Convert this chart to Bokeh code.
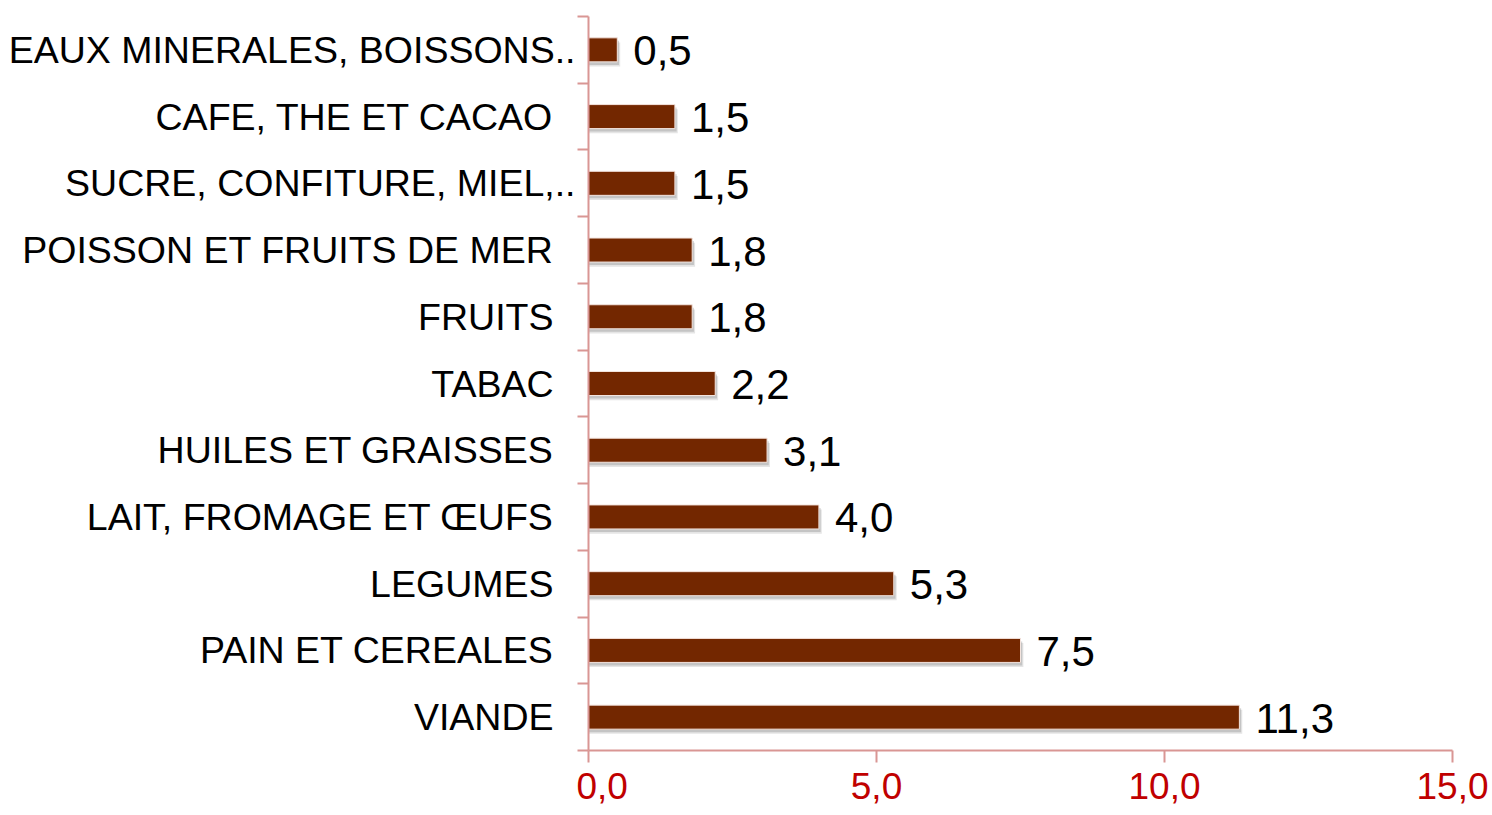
from bokeh.plotting import figure
from bokeh.layouts import row
from bokeh.models import FixedTicker, ColumnDataSource, Range1d
from bokeh.transform import dodge
from bokeh.core.properties import value
from bokeh.embed import file_html
from bokeh.resources import INLINE

# data (top to bottom as in the chart)
categories = ["EAUX MINERALES, BOISSONS..", "CAFE, THE ET CACAO", "SUCRE, CONFITURE, MIEL,..",
              "POISSON ET FRUITS DE MER", "FRUITS", "TABAC", "HUILES ET GRAISSES",
              "LAIT, FROMAGE ET \u0152UFS", "LEGUMES", "PAIN ET CEREALES", "VIANDE"]
values = [0.5, 1.5, 1.5, 1.8, 1.8, 2.2, 3.1, 4.0, 5.3, 7.5, 11.3]
value_labels = ["0,5", "1,5", "1,5", "1,8", "1,8", "2,2", "3,1", "4,0", "5,3", "7,5", "11,3"]
x_ticks = [0, 5, 10, 15]
x_tick_labels = ["0,0", "5,0", "10,0", "15,0"]

FONT = "Liberation Sans"
BAR = "#732700"
AXIS = "#D99694"

H = 815
TOP = 16
BOTTOM = 65
LEFTW = 576

n = len(categories)
ypos = [n - 1 - i for i in range(n)]
xoff = [-1 if c.endswith("..") else -23 for c in categories]

src = ColumnDataSource(dict(y=ypos, val=values, lab=value_labels, cat=categories, xoff=xoff))
yr = Range1d(-0.5, n - 0.5)

# left panel with category names
lp = figure(width=LEFTW, height=H, output_backend="svg", toolbar_location=None,
            x_range=Range1d(-1, 0), y_range=yr, x_axis_type=None, y_axis_type=None,
            min_border_left=0, min_border_right=0, min_border_top=TOP, min_border_bottom=BOTTOM)
lp.outline_line_color = None
lp.xgrid.grid_line_color = None
lp.ygrid.grid_line_color = None
lp.text(x=0, y='y', text='cat', source=src, x_offset='xoff',
        text_align="right", text_baseline="middle",
        text_font=value(FONT), text_font_size="37.5px", text_color="black")

p = figure(width=1490 - LEFTW, height=H, output_backend="svg", toolbar_location=None,
           x_range=Range1d(0, 15), y_range=yr,
           min_border_left=12, min_border_right=38, min_border_top=TOP, min_border_bottom=BOTTOM)
p.outline_line_color = None
p.xgrid.grid_line_color = None
p.ygrid.grid_line_color = None

# shadow layers
p.hbar(y=dodge('y', -0.07, range=p.y_range), left=0, right=dodge('val', 0.05), height=0.36,
       source=src, fill_color="#999999", fill_alpha=0.25, line_color=None)
p.hbar(y=dodge('y', -0.045, range=p.y_range), left=0, right=dodge('val', 0.03), height=0.36,
       source=src, fill_color="#888888", fill_alpha=0.35, line_color=None)
# bars
p.hbar(y='y', left=0, right='val', height=0.36, source=src,
       fill_color=BAR, line_color="#f3e4de", line_width=1)

# value labels
p.text(x='val', y='y', text='lab', source=src, x_offset=16, y_offset=1,
       text_align="left", text_baseline="middle",
       text_font=value(FONT), text_font_size="42px", text_color="black")

# x axis
xa = p.xaxis[0]
xa.ticker = FixedTicker(ticks=x_ticks, minor_ticks=[])
xa.major_label_overrides = {t: l for t, l in zip(x_ticks, x_tick_labels)}
xa.axis_line_color = AXIS
xa.axis_line_width = 2
xa.major_tick_line_color = AXIS
xa.major_tick_line_width = 2
xa.major_tick_out = 12
xa.major_tick_in = 0
xa.minor_tick_line_color = None
xa.major_label_text_color = "#C00000"
xa.major_label_text_font = FONT
xa.major_label_text_font_size = "37px"
xa.major_label_standoff = 10

# y axis: ticks at category boundaries only
ya = p.yaxis[0]
ya.ticker = FixedTicker(ticks=[], minor_ticks=[i - 0.5 for i in range(n + 1)])
ya.axis_line_color = AXIS
ya.axis_line_width = 2
ya.major_tick_line_color = None
ya.minor_tick_line_color = AXIS
ya.minor_tick_line_width = 2
ya.minor_tick_out = 11
ya.minor_tick_in = 0
ya.major_label_standoff = 0
ya.major_label_text_font_size = "0px"

layout = row(lp, p, spacing=0)
open("out.html", "w").write(file_html(layout, INLINE))
